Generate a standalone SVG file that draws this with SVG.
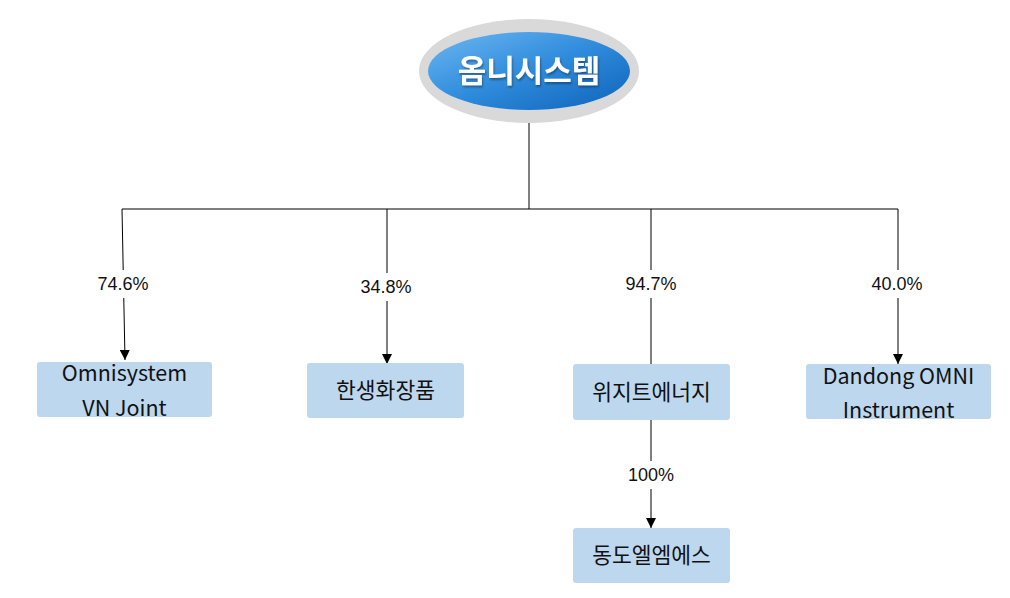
<svg xmlns="http://www.w3.org/2000/svg" width="1010" height="598" viewBox="0 0 1010 598">
<defs>
<linearGradient id="blue" x1="0" y1="0" x2="1" y2="1">
<stop offset="0" stop-color="#6DB8F2"/>
<stop offset="0.5" stop-color="#2F8BDB"/>
<stop offset="1" stop-color="#0E63BA"/>
</linearGradient>
<marker id="arr" viewBox="0 0 10 10" refX="10" refY="5" markerWidth="10" markerHeight="10" markerUnits="userSpaceOnUse" orient="auto">
<path d="M0,0 L10,5 L0,10 z" fill="#000"/>
</marker>
<filter id="sh" x="-10%" y="-10%" width="120%" height="130%">
<feDropShadow dx="1" dy="2" stdDeviation="1" flood-color="#000" flood-opacity="0.35"/>
</filter>
</defs>
<style>
.box{fill:#BDD7EE}
.t{font-family:"Noto Sans CJK KR","Noto Sans",sans-serif;font-size:21.5px;fill:#111;text-anchor:middle}
.lbl{font-family:"Liberation Sans","Noto Sans CJK KR",sans-serif;font-size:18px;fill:#111;text-anchor:middle}
.ln{stroke:#000;stroke-width:1;fill:none}
</style>
<rect width="1010" height="598" fill="#fff"/>
<g id="connectors">
<path class="ln" d="M529,122 V209 M122,209 H898"/>
<path class="ln" d="M122,209 L125,360" marker-end="url(#arr)"/>
<path class="ln" d="M387,209 V364" marker-end="url(#arr)"/>
<path class="ln" d="M651,209 V364"/>
<path class="ln" d="M898,209 V364" marker-end="url(#arr)"/>
<path class="ln" d="M651,420 V528" marker-end="url(#arr)"/>
<rect x="92" y="270" width="62" height="28" fill="#fff"/>
<text class="lbl" x="123" y="290">74.6%</text>
<rect x="355" y="273" width="62" height="28" fill="#fff"/>
<text class="lbl" x="386" y="293">34.8%</text>
<rect x="620" y="270" width="62" height="28" fill="#fff"/>
<text class="lbl" x="651" y="290">94.7%</text>
<rect x="866" y="270" width="62" height="28" fill="#fff"/>
<text class="lbl" x="897" y="290">40.0%</text>
<rect x="624" y="461" width="54" height="28" fill="#fff"/>
<text class="lbl" x="651" y="481">100%</text>
</g>
<g id="root">
<ellipse cx="529" cy="71" rx="110" ry="52" fill="#D9D9D9"/>
<ellipse cx="529" cy="71" rx="101" ry="39" fill="url(#blue)"/>
<text x="529" y="82" font-family="Noto Sans CJK KR,sans-serif" font-size="31" font-weight="bold" fill="#fff" text-anchor="middle" filter="url(#sh)">옴니시스템</text>
</g>
<g id="n1">
<rect class="box" x="37" y="362" width="175" height="55" rx="3"/>
<text class="t" x="124.5" y="381">Omnisystem</text>
<text class="t" x="124.5" y="416">VN Joint</text>
</g>
<g id="n2">
<rect class="box" x="307" y="363" width="157" height="55" rx="3"/>
<text class="t" x="385.5" y="398">한생화장품</text>
</g>
<g id="n3">
<rect class="box" x="573" y="364" width="157" height="56" rx="3"/>
<text class="t" x="651.5" y="400">위지트에너지</text>
</g>
<g id="n4">
<rect class="box" x="806" y="364" width="185" height="55" rx="3"/>
<text class="t" x="898.5" y="384">Dandong OMNI</text>
<text class="t" x="898.5" y="418">Instrument</text>
</g>
<g id="n5">
<rect class="box" x="573" y="528" width="157" height="55" rx="3"/>
<text class="t" x="651.5" y="563">동도엘엠에스</text>
</g>
</svg>
